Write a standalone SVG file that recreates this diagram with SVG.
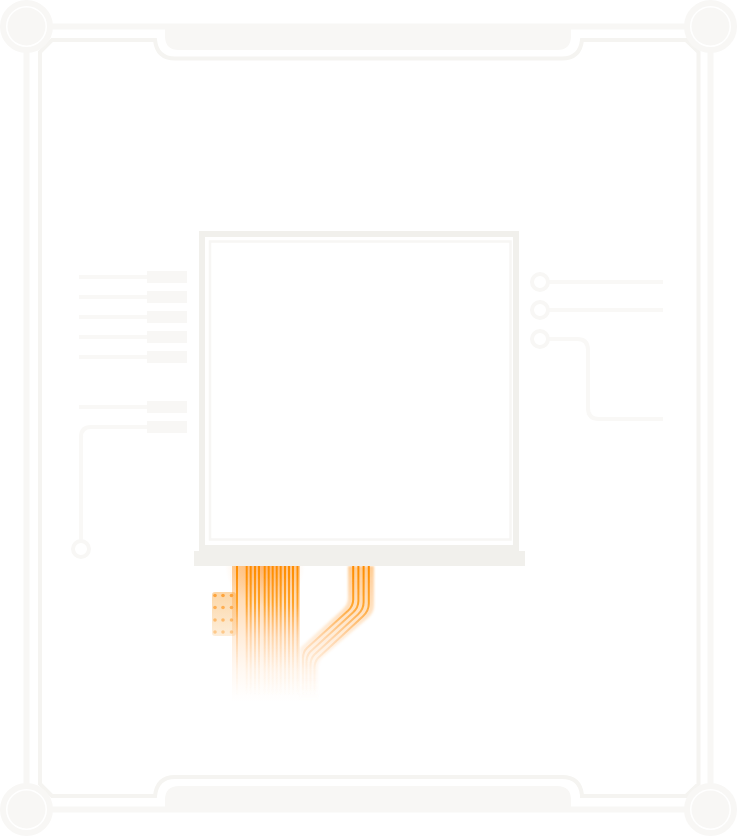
<svg xmlns="http://www.w3.org/2000/svg" width="737" height="836" viewBox="0 0 737 836">
<style>
.frame{fill:none;stroke:#f8f7f5;stroke-width:6}
.frame2{fill:none;stroke:#f5f4f1;stroke-width:4}
.tab{fill:#f8f7f5}
.ring{fill:#fff;stroke:#f8f7f5;stroke-width:6}
.disc{fill:#f8f7f5}
.wire{fill:none;stroke:#f9f8f6;stroke-width:4}
.pad{fill:#f8f7f5}
.port{fill:#fff;stroke:#f8f7f5;stroke-width:4}
.st{fill:none;stroke:url(#line);stroke-width:2}
.dot{fill:#ff9f30}
</style>
<defs>
<linearGradient id="base" gradientUnits="userSpaceOnUse" x1="0" y1="566" x2="0" y2="702">
<stop offset="0" stop-color="#ff9a2a" stop-opacity=".5"/>
<stop offset=".35" stop-color="#ffa84a" stop-opacity=".32"/>
<stop offset=".7" stop-color="#ffc080" stop-opacity=".14"/>
<stop offset="1" stop-color="#ffd0a0" stop-opacity="0"/>
</linearGradient>
<linearGradient id="line" gradientUnits="userSpaceOnUse" x1="0" y1="566" x2="0" y2="695">
<stop offset="0" stop-color="#ff8c00"/>
<stop offset=".3" stop-color="#ff9a14" stop-opacity=".85"/>
<stop offset=".55" stop-color="#ffb060" stop-opacity=".42"/>
<stop offset=".8" stop-color="#ffc080" stop-opacity=".12"/>
<stop offset="1" stop-color="#ffc080" stop-opacity="0"/>
</linearGradient>
<linearGradient id="padfill" gradientUnits="userSpaceOnUse" x1="0" y1="592" x2="0" y2="636">
<stop offset="0" stop-color="#fcd6a6"/>
<stop offset="1" stop-color="#fdeeda"/>
</linearGradient>
<radialGradient id="glow" gradientUnits="userSpaceOnUse" cx="265" cy="566" r="40">
<stop offset="0" stop-color="#ff7a10" stop-opacity=".3"/>
<stop offset="1" stop-color="#ff8a10" stop-opacity="0"/>
</radialGradient>
<filter id="soft" x="-10%" y="-10%" width="120%" height="120%"><feGaussianBlur stdDeviation="1"/></filter>
<filter id="crisp" x="-10%" y="-10%" width="120%" height="120%"><feGaussianBlur stdDeviation="0.35"/></filter>
</defs>

<g id="frame">
<path class="frame" d="M50 26.500H687"/>
<path class="frame" d="M50 809.500H687"/>
<path class="frame" d="M26.500 50V786"/>
<path class="frame" d="M710.500 50V786"/>
<path class="frame2" d="M698.500 52V784L686 796H582V795Q580 777 562 777H175Q157 777 155 796H52L40 784V52L52 40H155Q157 58.500 175 58.500H562Q580 58.500 582 40H686Z"/>
</g>
<g id="tab-top"><path class="tab" d="M165 24H571V36Q571 50 557 50H179Q165 50 165 36Z"/></g>
<g id="tab-bottom"><path class="tab" d="M165 812H571V800Q571 786 557 786H179Q165 786 165 800Z"/></g>
<g id="corner-tl"><circle class="ring" cx="26.500" cy="26.500" r="23.500"/><circle class="disc" cx="26.500" cy="26.500" r="19"/></g>
<g id="corner-tr"><circle class="ring" cx="710.500" cy="26.500" r="23.500"/><circle class="disc" cx="710.500" cy="26.500" r="19"/></g>
<g id="corner-bl"><circle class="ring" cx="26.500" cy="809.500" r="23.500"/><circle class="disc" cx="26.500" cy="809.500" r="19"/></g>
<g id="corner-br"><circle class="ring" cx="710.500" cy="809.500" r="23.500"/><circle class="disc" cx="710.500" cy="809.500" r="19"/></g>

<g id="connectors">
<path class="wire" d="M79 277H147M79 297H147M79 317H147M79 337H147M79 357H147M79 407H147"/>
<path class="wire" d="M147 427H91Q81 427 81 437V541"/>
<path class="wire" d="M548 282H663M548 310H663"/>
<path class="wire" d="M548 339H577Q588 339 588 350V408Q588 419 599 419H663"/>
</g>
<g id="pads-left">
<rect class="pad" x="147" y="271" width="40" height="12"/>
<rect class="pad" x="147" y="291" width="40" height="12"/>
<rect class="pad" x="147" y="311" width="40" height="12"/>
<rect class="pad" x="147" y="331" width="40" height="12"/>
<rect class="pad" x="147" y="351" width="40" height="12"/>
<rect class="pad" x="147" y="401" width="40" height="12"/>
<rect class="pad" x="147" y="421" width="40" height="12"/>
</g>
<g id="port-left"><circle class="port" cx="81" cy="549" r="8"/></g>
<g id="port-right-1"><circle class="port" cx="540" cy="282" r="8"/></g>
<g id="port-right-2"><circle class="port" cx="540" cy="310" r="8"/></g>
<g id="port-right-3"><circle class="port" cx="540" cy="339" r="8"/></g>

<g id="flex-right">
<path filter="url(#soft)" fill="url(#base)" d="M348 566H374V605Q374 613 368 618L322 658Q318 662 318 668V702H300V648L343 609Q348 604 348 598Z"/>
<g filter="url(#crisp)">
<path class="st" d="M353.200 566V599.400Q353.200 605.800 348 610.800L307 648Q303 652 303 658V700"/>
<path class="st" d="M358.400 566V600.800Q358.400 607.600 353 612.600L310 652Q306.500 656 306.500 662V700"/>
<path class="st" d="M363.600 566V602.200Q363.600 609.400 358 614.400L314 655Q310.500 659 310.500 665V700"/>
<path class="st" d="M368.800 566V603.600Q368.800 611.200 363 616.200L318 658Q314.500 662 314.500 668V700"/>
</g>
</g>
<g id="flex-pad" filter="url(#crisp)">
<rect x="212" y="592" width="24" height="44" rx="3" fill="url(#padfill)"/>
<g class="dot" opacity=".9"><circle cx="215" cy="595.500" r="1.800"/><circle cx="223" cy="595.500" r="1.800"/><circle cx="231.500" cy="595.500" r="1.800"/></g>
<g class="dot" opacity=".75"><circle cx="215" cy="607.500" r="1.800"/><circle cx="223" cy="607.500" r="1.800"/><circle cx="231.500" cy="607.500" r="1.800"/></g>
<g class="dot" opacity=".6"><circle cx="215" cy="620" r="1.800"/><circle cx="223" cy="620" r="1.800"/><circle cx="231.500" cy="620" r="1.800"/></g>
<g class="dot" opacity=".45"><circle cx="215" cy="632" r="1.800"/><circle cx="223" cy="632" r="1.800"/><circle cx="231.500" cy="632" r="1.800"/></g>
</g>
<g id="flex-left">
<rect x="232" y="566" width="68" height="136" fill="url(#base)"/>
<rect x="225" y="566" width="80" height="44" fill="url(#glow)"/>
<path filter="url(#crisp)" class="st" d="M237 566V700M246.700 566V700M250.700 566V700M255 566V700M259 566V700M264.700 566V700M268.700 566V700M272.700 566V700M276.700 566V700M280.700 566V700M285 566V700M289 566V700M293 566V700M297.500 566V700"/>
</g>

<g id="display">
<rect x="202" y="234" width="314" height="315" fill="#fff" stroke="#f1f0ec" stroke-width="6"/>
<rect x="210" y="241.500" width="300.500" height="298" fill="none" stroke="#f7f6f4" stroke-width="2.500"/>
<path fill="#f1f0ec" d="M199 545H519V551H525V566H194V551H199Z"/>
</g>
</svg>
